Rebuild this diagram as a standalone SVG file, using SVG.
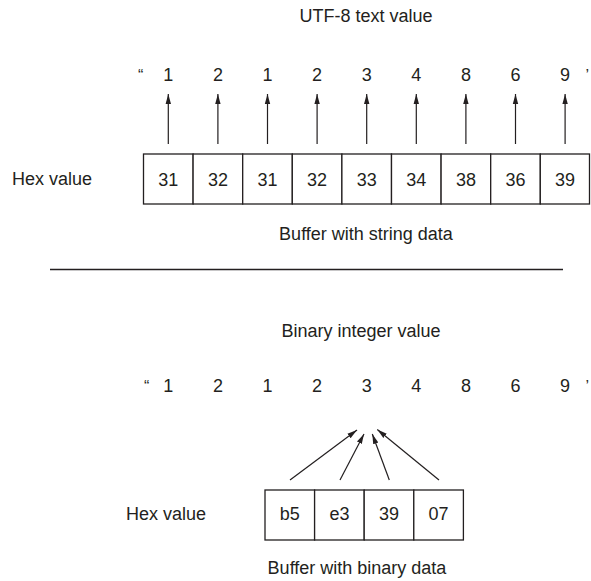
<svg xmlns="http://www.w3.org/2000/svg" width="591" height="581" viewBox="0 0 591 581">
<style>
text{font-family:"Liberation Sans",Arial,sans-serif;font-size:18px;fill:#231f20}
.c{text-anchor:middle}
.e{text-anchor:end}
.q{font-size:16px}
.box{fill:#fff;stroke:#231f20;stroke-width:1.3}
.arr{stroke:#231f20;stroke-width:1.2;fill:none;marker-end:url(#ah)}
</style>
<defs>
<marker id="ah" markerUnits="userSpaceOnUse" markerWidth="10" markerHeight="10" viewBox="0 0 10 10" refX="10" refY="5" orient="auto">
<path d="M0,2.3 L10,5 L0,7.7 Z" fill="#231f20"/>
</marker>
</defs>
<rect width="591" height="581" fill="#fff"/>
<g id="top-title"><text class="c" x="366" y="22">UTF-8 text value</text></g>
<g id="top-chars">
<text class="q" x="138" y="81">“</text>
<text class="c" x="168.3" y="81">1</text>
<text class="c" x="217.9" y="81">2</text>
<text class="c" x="267.5" y="81">1</text>
<text class="c" x="317.1" y="81">2</text>
<text class="c" x="366.7" y="81">3</text>
<text class="c" x="416.3" y="81">4</text>
<text class="c" x="465.9" y="81">8</text>
<text class="c" x="515.5" y="81">6</text>
<text class="c" x="565.1" y="81">9</text>
<text class="q" x="585.5" y="81">’</text>
</g>
<g id="top-hex-label"><text class="e" x="92" y="185">Hex value</text></g>
<g id="top-buffer">
<rect class="box" x="143.5" y="154" width="49.6" height="50"/>
<rect class="box" x="193.1" y="154" width="49.6" height="50"/>
<rect class="box" x="242.7" y="154" width="49.6" height="50"/>
<rect class="box" x="292.3" y="154" width="49.6" height="50"/>
<rect class="box" x="341.9" y="154" width="49.6" height="50"/>
<rect class="box" x="391.5" y="154" width="49.6" height="50"/>
<rect class="box" x="441.1" y="154" width="49.6" height="50"/>
<rect class="box" x="490.7" y="154" width="49.6" height="50"/>
<rect class="box" x="540.3" y="154" width="49.2" height="50"/>
<text class="c" x="168.3" y="186">31</text>
<text class="c" x="217.9" y="186">32</text>
<text class="c" x="267.5" y="186">31</text>
<text class="c" x="317.1" y="186">32</text>
<text class="c" x="366.7" y="186">33</text>
<text class="c" x="416.3" y="186">34</text>
<text class="c" x="465.9" y="186">38</text>
<text class="c" x="515.5" y="186">36</text>
<text class="c" x="565.1" y="186">39</text>
</g>
<g id="top-caption"><text class="c" x="366" y="240">Buffer with string data</text></g>
<g id="divider"><line x1="50" y1="269.5" x2="563" y2="269.5" stroke="#231f20" stroke-width="1.4"/></g>
<g id="bottom-title"><text class="c" x="361" y="337">Binary integer value</text></g>
<g id="bottom-chars">
<text class="q" x="144" y="392">“</text>
<text class="c" x="168.3" y="392">1</text>
<text class="c" x="217.9" y="392">2</text>
<text class="c" x="267.5" y="392">1</text>
<text class="c" x="317.1" y="392">2</text>
<text class="c" x="366.7" y="392">3</text>
<text class="c" x="416.3" y="392">4</text>
<text class="c" x="465.9" y="392">8</text>
<text class="c" x="515.5" y="392">6</text>
<text class="c" x="565.1" y="392">9</text>
<text class="q" x="585.5" y="392">’</text>
</g>
<g id="bottom-hex-label"><text class="e" x="206" y="520">Hex value</text></g>
<g id="bottom-buffer">
<rect class="box" x="265" y="490" width="49.6" height="50"/>
<rect class="box" x="314.6" y="490" width="49.6" height="50"/>
<rect class="box" x="364.2" y="490" width="49.6" height="50"/>
<rect class="box" x="413.8" y="490" width="49.6" height="50"/>
<text class="c" x="289.8" y="520">b5</text>
<text class="c" x="339.4" y="520">e3</text>
<text class="c" x="389" y="520">39</text>
<text class="c" x="438.6" y="520">07</text>
</g>
<g id="bottom-caption"><text class="c" x="357" y="574">Buffer with binary data</text></g>
<g id="connectors">
<line class="arr" x1="168.3" y1="144" x2="168.3" y2="94"/>
<line class="arr" x1="217.9" y1="144" x2="217.9" y2="94"/>
<line class="arr" x1="267.5" y1="144" x2="267.5" y2="94"/>
<line class="arr" x1="317.1" y1="144" x2="317.1" y2="94"/>
<line class="arr" x1="366.7" y1="144" x2="366.7" y2="94"/>
<line class="arr" x1="416.3" y1="144" x2="416.3" y2="94"/>
<line class="arr" x1="465.9" y1="144" x2="465.9" y2="94"/>
<line class="arr" x1="515.5" y1="144" x2="515.5" y2="94"/>
<line class="arr" x1="565.1" y1="144" x2="565.1" y2="94"/>
<line class="arr" x1="290" y1="480" x2="357" y2="430"/>
<line class="arr" x1="340" y1="480" x2="364" y2="434"/>
<line class="arr" x1="389.3" y1="480" x2="372.3" y2="434"/>
<line class="arr" x1="439" y1="480" x2="377.3" y2="429.5"/>
</g>
</svg>
